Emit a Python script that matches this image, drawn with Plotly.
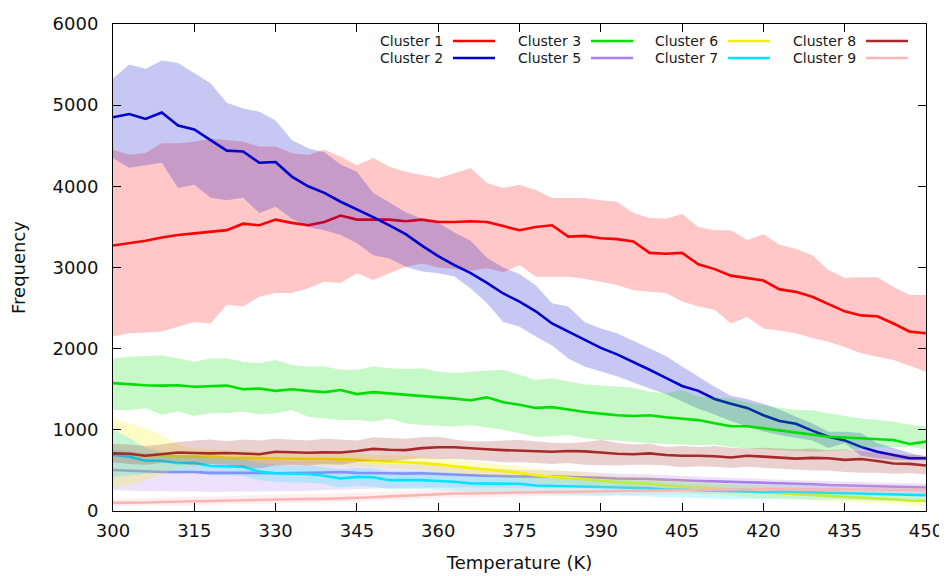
import plotly.graph_objects as go

# ----------------------------------------------------------------------------
#  DATA  (temperature grid, mean and band limits per cluster)
# ----------------------------------------------------------------------------
temperature = list(range(300, 451, 3))

c1_mean = [3270, 3300, 3330, 3370, 3400, 3420, 3440, 3460, 3540, 3520,
           3590, 3550, 3520, 3560, 3640, 3590, 3590, 3590, 3570, 3590,
           3560, 3560, 3570, 3560, 3510, 3460, 3500, 3520, 3380, 3390,
           3360, 3350, 3320, 3180, 3170, 3180, 3040, 2980, 2900, 2870,
           2840, 2730, 2700, 2640, 2550, 2460, 2410, 2400, 2310, 2210, 2190]
c1_hi = [4450, 4390, 4410, 4530, 4530, 4550, 4590, 4570, 4550, 4490,
         4490, 4410, 4385, 4450, 4365, 4260, 4350, 4240, 4180, 4140,
         4100, 4160, 4225, 4040, 3980, 4020, 3955, 3855, 3855, 3855,
         3830, 3810, 3670, 3610, 3600, 3660, 3500, 3460, 3460, 3340,
         3410, 3280, 3230, 3150, 2970, 2870, 2880, 2880, 2760, 2660, 2660]
c1_lo = [2150, 2190, 2200, 2210, 2270, 2330, 2310, 2540, 2520, 2640,
         2685, 2685, 2745, 2825, 2810, 2930, 2845, 2930, 3010, 3050,
         3000, 2980, 2960, 2990, 2940, 3030, 2885, 2885, 2885, 2860,
         2820, 2785, 2720, 2700, 2685, 2580, 2520, 2480, 2310, 2390,
         2250, 2220, 2190, 2130, 2085, 2020, 1945, 1900, 1860, 1790, 1715]

c2_mean = [4850, 4890, 4830, 4910, 4750, 4700, 4570, 4440, 4430, 4290,
           4300, 4120, 4000, 3920, 3810, 3720, 3620, 3520, 3410, 3270,
           3140, 3030, 2930, 2810, 2680, 2580, 2460, 2310, 2210, 2120,
           2010, 1930, 1840, 1740, 1640, 1540, 1480, 1380, 1320, 1270,
           1180, 1110, 1075, 990, 915, 870, 790, 730, 690, 650, 650]
c2_hi = [5330, 5500, 5450, 5550, 5520, 5390, 5270, 5030, 4960, 4920,
         4810, 4570, 4470, 4420, 4270, 4180, 3920, 3800, 3680, 3600,
         3550, 3430, 3330, 3120, 3000, 2920, 2780, 2560, 2520, 2330,
         2250, 2190, 2100, 2000, 1910, 1780, 1650, 1530, 1420, 1380,
         1320, 1250, 1160, 1080, 975, 975, 960, 835, 775, 715, 670]
c2_lo = [4345, 4230, 4260, 4290, 3980, 4020, 3860, 3830, 3860, 3670,
         3750, 3600, 3500, 3460, 3400, 3300, 3150, 3110, 3010, 2950,
         2930, 2890, 2740, 2560, 2330, 2270, 2150, 2040, 1880, 1780,
         1720, 1660, 1590, 1510, 1440, 1350, 1260, 1190, 1110, 1040,
         980, 935, 900, 870, 775, 835, 680, 650, 630, 625, 625]

c3_mean = [1575, 1560, 1550, 1545, 1550, 1530, 1540, 1545, 1500, 1510,
           1480, 1500, 1480, 1465, 1490, 1440, 1465, 1450, 1435, 1420,
           1400, 1385, 1365, 1400, 1340, 1310, 1270, 1280, 1250, 1220,
           1200, 1180, 1170, 1180, 1155, 1140, 1120, 1080, 1045, 1045,
           1020, 990, 965, 940, 915, 905, 895, 885, 875, 825, 855]
c3_hi = [1880, 1900, 1910, 1920, 1880, 1840, 1880, 1880, 1840, 1820,
         1860, 1800, 1780, 1780, 1740, 1740, 1780, 1760, 1750, 1760,
         1720, 1700, 1715, 1730, 1740, 1680, 1615, 1635, 1600, 1560,
         1545, 1535, 1520, 1470, 1450, 1490, 1410, 1400, 1390, 1340,
         1305, 1270, 1245, 1240, 1205, 1170, 1140, 1120, 1100, 1060, 1040]
c3_lo = [1245, 1245, 1265, 1185, 1225, 1170, 1205, 1205, 1225, 1190,
         1205, 1245, 1160, 1140, 1120, 1120, 1100, 1140, 1080, 1060,
         1050, 1040, 1060, 1030, 1000, 960, 915, 920, 935, 900,
         875, 870, 850, 835, 825, 815, 810, 815, 790, 770,
         760, 750, 740, 730, 740, 750, 770, 790, 790, 790, 760]

c5_mean = [505, 495, 485, 480, 480, 480, 470, 470, 475, 470,
           465, 465, 470, 475, 480, 470, 470, 465, 460, 465,
           455, 445, 440, 435, 430, 425, 430, 425, 420, 420,
           410, 400, 400, 395, 385, 375, 370, 365, 360, 355,
           350, 340, 335, 330, 320, 315, 310, 305, 300, 295, 290]
c5_hi = [760, 740, 720, 700, 690, 680, 660, 650, 650, 640,
         630, 620, 620, 620, 620, 600, 595, 585, 575, 575,
         560, 545, 535, 525, 515, 505, 505, 495, 490, 485,
         475, 460, 460, 450, 440, 430, 420, 415, 410, 400,
         395, 385, 380, 375, 365, 360, 355, 350, 345, 340, 335]
c5_lo = [260, 250, 245, 240, 240, 240, 235, 235, 240, 240,
         240, 245, 250, 260, 270, 270, 275, 280, 285, 290,
         290, 285, 285, 285, 285, 285, 290, 290, 290, 295,
         290, 285, 290, 290, 285, 280, 275, 270, 270, 265,
         265, 260, 255, 250, 245, 240, 235, 235, 230, 225, 220]

c6_mean = [700, 695, 690, 680, 670, 670, 670, 660, 655, 650,
           650, 645, 640, 640, 635, 630, 615, 610, 600, 590,
           575, 550, 530, 510, 490, 470, 440, 420, 410, 390,
           370, 355, 345, 335, 315, 305, 290, 280, 260, 240,
           230, 220, 210, 200, 185, 175, 165, 155, 145, 130, 125]
c6_hi = [1140, 1080, 1020, 930, 820, 770, 760, 750, 740, 730,
         730, 720, 720, 715, 710, 705, 690, 690, 680, 670,
         650, 630, 610, 590, 570, 550, 520, 500, 490, 470,
         450, 435, 425, 415, 395, 385, 370, 355, 335, 315,
         305, 295, 280, 270, 255, 245, 235, 220, 210, 195, 190]
c6_lo = [280, 320, 380, 450, 520, 560, 580, 575, 570, 570,
         570, 570, 565, 565, 560, 555, 545, 535, 525, 515,
         500, 475, 455, 435, 415, 395, 365, 345, 335, 315,
         295, 280, 270, 260, 240, 230, 215, 205, 190, 170,
         160, 150, 140, 130, 120, 110, 100, 95, 85, 70, 65]

c7_mean = [690, 670, 620, 620, 590, 595, 555, 550, 545, 485,
           465, 460, 455, 435, 400, 420, 415, 380, 380, 380,
           370, 360, 340, 340, 335, 335, 315, 310, 305, 300,
           290, 290, 285, 280, 265, 265, 255, 250, 240, 240,
           235, 240, 235, 230, 230, 225, 220, 210, 205, 200, 195]
c7_hi = [1000, 900, 780, 730, 690, 690, 660, 650, 640, 590,
         570, 560, 560, 540, 510, 530, 520, 490, 490, 490,
         480, 470, 450, 445, 440, 440, 420, 410, 405, 400,
         390, 385, 380, 375, 360, 355, 345, 340, 330, 330,
         320, 325, 320, 315, 310, 305, 300, 290, 285, 280, 275]
c7_lo = [420, 440, 460, 470, 460, 470, 440, 440, 430, 380,
         360, 350, 350, 330, 290, 310, 300, 270, 270, 270,
         260, 250, 230, 235, 225, 230, 210, 205, 200, 195,
         185, 190, 185, 180, 165, 170, 160, 155, 145, 150,
         145, 150, 145, 140, 145, 140, 135, 125, 120, 115, 110]

c8_mean = [710, 705, 680, 700, 720, 715, 710, 715, 705, 700,
           730, 720, 718, 722, 720, 740, 765, 755, 750, 775,
           785, 785, 770, 760, 750, 745, 735, 730, 740, 735,
           720, 705, 700, 710, 690, 680, 680, 675, 660, 680,
           670, 660, 645, 655, 650, 630, 640, 615, 585, 580, 560]
c8_hi = [830, 820, 800, 820, 850, 870, 880, 860, 880, 870,
         890, 880, 870, 890, 880, 870, 910, 900, 890, 910,
         915, 880, 860, 855, 870, 875, 860, 840, 835, 850,
         875, 840, 820, 830, 790, 800, 790, 800, 780, 770,
         780, 770, 760, 770, 750, 760, 740, 720, 700, 690, 680]
c8_lo = [600, 580, 570, 590, 590, 560, 580, 570, 540, 525,
         560, 570, 560, 580, 570, 600, 620, 610, 630, 650,
         640, 640, 630, 620, 600, 600, 590, 580, 590, 570,
         565, 560, 570, 570, 560, 540, 550, 545, 530, 545,
         530, 520, 510, 500, 500, 480, 470, 470, 460, 465, 450]

c9_mean = [100, 100, 105, 110, 115, 115, 120, 125, 130, 135,
           140, 145, 150, 150, 155, 160, 170, 180, 190, 200,
           210, 215, 215, 220, 220, 225, 230, 235, 235, 240,
           240, 245, 250, 250, 255, 255, 260, 265, 265, 270,
           270, 270, 270, 270, 270, 265, 265, 265, 260, 260, 260]
c9_hi = [150, 150, 160, 165, 170, 170, 175, 180, 185, 190,
         195, 200, 205, 210, 215, 220, 230, 240, 250, 260,
         270, 275, 280, 285, 285, 290, 295, 300, 300, 305,
         305, 310, 315, 315, 320, 320, 325, 330, 330, 335,
         335, 335, 335, 335, 335, 330, 330, 330, 325, 325, 325]
c9_lo = [55, 55, 60, 65, 70, 70, 75, 80, 85, 90,
         95, 100, 105, 105, 110, 115, 125, 135, 140, 150,
         160, 165, 165, 170, 170, 175, 180, 185, 185, 190,
         190, 195, 200, 200, 205, 205, 210, 215, 215, 220,
         220, 220, 220, 220, 220, 215, 215, 215, 210, 210, 210]

names = ["Cluster 1", "Cluster 2", "Cluster 3", "Cluster 5",
         "Cluster 6", "Cluster 7", "Cluster 8", "Cluster 9"]
means = [c1_mean, c2_mean, c3_mean, c5_mean, c6_mean, c7_mean, c8_mean, c9_mean]
highs = [c1_hi, c2_hi, c3_hi, c5_hi, c6_hi, c7_hi, c8_hi, c9_hi]
lows = [c1_lo, c2_lo, c3_lo, c5_lo, c6_lo, c7_lo, c8_lo, c9_lo]

# ----------------------------------------------------------------------------
#  STYLE
# ----------------------------------------------------------------------------
colors = [(255, 0, 0), (0, 0, 205), (0, 222, 0), (168, 124, 242),
          (245, 240, 0), (0, 228, 255), (165, 42, 42), (255, 180, 180)]
band_alpha = 0.22

W, H = 947, 576
PAGE_OFF = 8                      # default body margin of the html page
L, R, T, B = 113, 926, 24, 511    # plot frame, in page pixels


def rgb(c, a=None):
    if a is None:
        return "rgb(%d,%d,%d)" % c
    return "rgba(%d,%d,%d,%.2f)" % (c + (a,))


def px_to_paper(px, py):
    return (px - L) / (R - L), (B - py) / (B - T)


fig = go.Figure()

for name, m, hi, lo, c in zip(names, means, highs, lows, colors):
    fig.add_trace(go.Scatter(x=temperature + temperature[::-1],
                             y=hi + lo[::-1],
                             fill="toself", fillcolor=rgb(c, band_alpha),
                             line=dict(width=0), mode="lines",
                             hoverinfo="skip", showlegend=False))
    fig.add_trace(go.Scatter(x=temperature, y=m, mode="lines", name=name,
                             line=dict(color=rgb(c), width=2.6),
                             showlegend=False))

# gnuplot style key: 4 columns x 2 rows, text then line sample
text_right = [445, 583, 720, 858]
row_y = [41, 58]
for i, (name, c) in enumerate(zip(names, colors)):
    col, row = divmod(i, 2)
    tx, ty = px_to_paper(text_right[col], row_y[row])
    x0, _ = px_to_paper(text_right[col] + 8, row_y[row])
    x1, _ = px_to_paper(text_right[col] + 50, row_y[row])
    fig.add_annotation(x=tx, y=ty, xref="paper", yref="paper", text=name,
                       showarrow=False, xanchor="right", yanchor="middle",
                       font=dict(size=14, color="#1a1a1a"))
    fig.add_shape(type="line", xref="paper", yref="paper",
                  x0=x0, x1=x1, y0=ty, y1=ty,
                  line=dict(color=rgb(c), width=2.6))

axis_style = dict(showline=True, linecolor="black", linewidth=1,
                  mirror="allticks", ticks="inside", ticklen=8,
                  tickcolor="black", showgrid=False, zeroline=False,
                  automargin=False,
                  tickfont=dict(size=18, color="#111111"))

fig.update_layout(
    width=W, height=H,
    margin=dict(l=L - PAGE_OFF, r=W - R + PAGE_OFF, t=T - PAGE_OFF,
                b=H - B + PAGE_OFF, autoexpand=False),
    paper_bgcolor="white", plot_bgcolor="white",
    font=dict(family="DejaVu Sans", color="#111111"),
    xaxis=dict(range=[300, 450], dtick=15, tick0=300,
               title=dict(text="Temperature (K)", font=dict(size=18), standoff=16),
               ticklabelstandoff=3, **axis_style),
    yaxis=dict(range=[0, 6000], dtick=1000,
               title=dict(text="Frequency", font=dict(size=18), standoff=22),
               ticklabelstandoff=10, **axis_style),
)

fig.write_html("out.html")
